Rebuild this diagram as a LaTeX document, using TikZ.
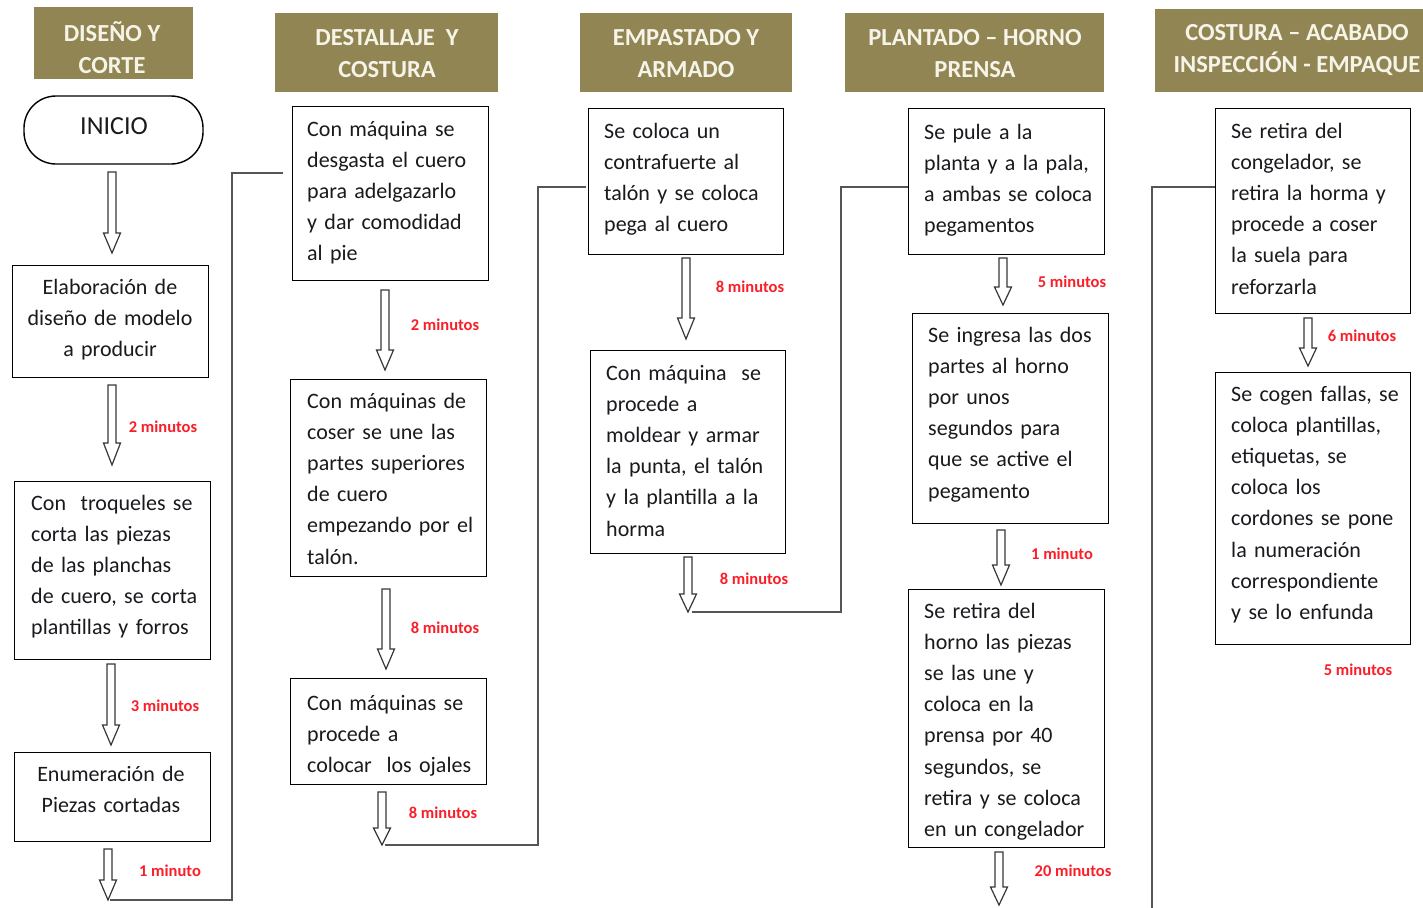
\documentclass[tikz,border=0pt]{standalone}
\usepackage{fontspec}
\setmainfont{Carlito}
\definecolor{hdrc}{RGB}{145,134,83}
\definecolor{hdrtxt}{RGB}{246,244,232}
\definecolor{txtc}{RGB}{25,25,30}
\definecolor{lblc}{RGB}{250,30,40}
\definecolor{arrc}{RGB}{55,55,55}
\definecolor{connc}{RGB}{85,85,85}
\newcommand\hdrfont{\bfseries\fontsize{24.5}{32}\selectfont}
\newcommand\bodyfont{\fontsize{22}{31.2}\selectfont\spaceskip=0.18em plus 0.05em minus 0.02em\relax}
\newcommand\lblfont{\bfseries\fontsize{16.5}{18}\selectfont}
\newcommand\blkarrow[4]{\draw[blk] ({#1-4},#2) -- ({#1+4},#2) -- ({#1+4},#3) -- ({#1+8.5},#3) -- (#1,#4) -- ({#1-8.5},#3) -- ({#1-4},#3) -- cycle;}
\tikzset{
 hdr/.style={fill=hdrc, draw=none, inner sep=0pt},
 hdrt/.style={text=hdrtxt, font=\hdrfont, align=center, inner sep=0pt},
 box/.style={draw=black, line width=1.4pt, inner sep=0pt, anchor=north west},
 txt/.style={anchor=base west, text width=200pt, align=left, inner sep=0pt, font=\bodyfont, text=txtc},
 ctxt/.style={anchor=base, text width=200pt, align=center, inner sep=0pt, font=\bodyfont, text=txtc},
 lbl/.style={font=\lblfont, text=lblc, inner sep=0pt},
 blk/.style={draw=arrc, line width=1.2pt, fill=white, line join=miter},
 conn/.style={draw=connc, line width=1.8pt},
}
\begin{document}
\begin{tikzpicture}[x=1pt,y=-1pt]
\useasboundingbox (0,0) rectangle (1423,907);
\begin{scope}
\clip (0,0) rectangle (1423,907);
% headers
\node[hdr, minimum width=159, minimum height=72] (h1) at (113.5,43) {};
\node[hdr, minimum width=223, minimum height=79] (h2) at (386.5,52.5) {};
\node[hdr, minimum width=212, minimum height=79] (h3) at (686,52.5) {};
\node[hdr, minimum width=259, minimum height=79] (h4) at (974.5,52.5) {};
\node[hdr, minimum width=284, minimum height=83] (h5) at (1297,50.5) {};
\node[hdrt] (h1t) at (112,48) {DISEÑO Y\\CORTE};
\node[hdrt] (h2t) at (387,54) {DESTALLAJE\ \ Y\\COSTURA};
\node[hdrt] (h3t) at (686,54) {EMPASTADO Y\\ARMADO};
\node[hdrt] (h4t) at (975,54) {PLANTADO – HORNO\\PRENSA};
\node[hdrt] (h5t) at (1297,50) {COSTURA – ACABADO\\INSPECCIÓN - EMPAQUE};

% start
\node[draw=black, line width=1.4pt, rounded corners=32pt, minimum width=179, minimum height=68, inner sep=0pt] (inicio) at (113.5,130) {};
\node[font=\fontsize{26}{30}\selectfont, text=txtc, inner sep=0pt] (iniciot) at (114,126) {INICIO};

% boxes
\node[box, minimum width=196, minimum height=112] (A1) at (12,265) {};
\node[box, minimum width=196, minimum height=178] (A2) at (14,481) {};
\node[box, minimum width=196, minimum height=89] (A3) at (14,752) {};
\node[box, minimum width=196, minimum height=174] (B1) at (292,106) {};
\node[box, minimum width=196, minimum height=197] (B2) at (290,379) {};
\node[box, minimum width=196, minimum height=106] (B3) at (290,678) {};
\node[box, minimum width=195, minimum height=146] (C1) at (588,108) {};
\node[box, minimum width=195, minimum height=203] (C2) at (590,350) {};
\node[box, minimum width=196, minimum height=146] (D1) at (908,108) {};
\node[box, minimum width=196, minimum height=210] (D2) at (912,313) {};
\node[box, minimum width=196, minimum height=258] (D3) at (908,589) {};
\node[box, minimum width=195, minimum height=205] (E1) at (1215,108) {};
\node[box, minimum width=195, minimum height=272] (E2) at (1215,372) {};

% texts
\node[ctxt] (A1t) at (110,294) {Elaboración de\\diseño de modelo\\a producir};
\node[txt] (A2t) at (31,510) {Con\ \ troqueles se\\corta las piezas\\de las planchas\\de cuero, se corta\\plantillas y forros};
\node[ctxt] (A3t) at (111,781) {Enumeración de\\Piezas cortadas};
\node[txt] (B1t) at (307,136) {Con máquina se\\desgasta el cuero\\para adelgazarlo\\y dar comodidad\\al pie};
\node[txt] (B2t) at (307,408) {Con máquinas de\\coser se une las\\partes superiores\\de cuero\\empezando por el\\talón.};
\node[txt] (B3t) at (307,710) {Con máquinas se\\procede a\\colocar\ \ los ojales};
\node[txt] (C1t) at (604,138) {Se coloca un\\contrafuerte al\\talón y se coloca\\pega al cuero};
\node[txt] (C2t) at (606,380) {Con máquina\ \ se\\procede a\\moldear y armar\\la punta, el talón\\y la plantilla a la\\horma};
\node[txt] (D1t) at (924,139) {Se pule a la\\planta y a la pala,\\a ambas se coloca\\pegamentos};
\node[txt] (D2t) at (928,342) {Se ingresa las dos\\partes al horno\\por unos\\segundos para\\que se active el\\pegamento};
\node[txt] (D3t) at (924,618) {Se retira del\\horno las piezas\\se las une y\\coloca en la\\prensa por 40\\segundos, se\\retira y se coloca\\en un congelador};
\node[txt] (E1t) at (1231,138) {Se retira del\\congelador, se\\retira la horma y\\procede a coser\\la suela para\\reforzarla};
\node[txt] (E2t) at (1231,401) {Se cogen fallas, se\\coloca plantillas,\\etiquetas, se\\coloca los\\cordones se pone\\la numeración\\correspondiente\\y se lo enfunda};

% connectors
\coordinate (tA) at (110,900);
\coordinate (tB) at (385,845);
\coordinate (tC) at (692,612);
\coordinate (tD) at (1152,920);
\coordinate (eB) at (283,173);
\coordinate (eC) at (586,187);
\coordinate (eD) at (D1.west |- 0,187);
\coordinate (eE) at (E1.west |- 0,187);
\draw[conn] (tA) -- (232,900) -- (232,173) -- (eB);
\draw[conn] (tB) -- (538,845) -- (538,187) -- (eC);
\draw[conn] (tC) -- (841,612) -- (841,187) -- (eD);
\draw[conn] (tD) -- (1152,187) -- (eE);

% block arrows
\blkarrow{112}{172}{233}{253}
\blkarrow{112}{385}{443}{465}
\blkarrow{111}{664}{725}{745}
\blkarrow{108}{849}{880}{900}
\blkarrow{385}{290}{350}{370}
\blkarrow{386}{589}{649}{669}
\blkarrow{382}{792}{828}{845}
\blkarrow{686}{258}{318}{339}
\blkarrow{688}{557}{594}{612}
\blkarrow{1003}{258}{287}{305}
\blkarrow{1001}{530}{565}{585}
\blkarrow{999}{852}{887}{905}
\blkarrow{1308}{318}{348}{366}

% labels
\node[lbl] (l1) at (163,427) {2 minutos};
\node[lbl] (l2) at (165,706) {3 minutos};
\node[lbl] (l3) at (170,871) {1 minuto};
\node[lbl] (l4) at (445,325) {2 minutos};
\node[lbl] (l5) at (445,628) {8 minutos};
\node[lbl] (l6) at (443,813) {8 minutos};
\node[lbl] (l7) at (750,287) {8 minutos};
\node[lbl] (l8) at (754,579) {8 minutos};
\node[lbl] (l9) at (1072,282) {5 minutos};
\node[lbl] (l10) at (1062,554) {1 minuto};
\node[lbl] (l11) at (1073,871) {20 minutos};
\node[lbl] (l12) at (1362,336) {6 minutos};
\node[lbl] (l13) at (1358,670) {5 minutos};
\end{scope}
\end{tikzpicture}
\end{document}
